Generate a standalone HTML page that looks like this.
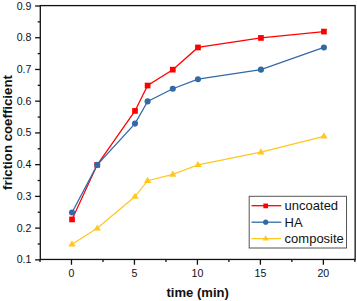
<!DOCTYPE html>
<html><head><meta charset="utf-8"><title>chart</title>
<style>
html,body{margin:0;padding:0;background:#fff;}
body{width:357px;height:301px;overflow:hidden;}
svg{display:block;}
.t{font-family:"Liberation Sans",sans-serif;fill:#111;}
</style></head><body>
<svg width="357" height="301" viewBox="0 0 357 301">
<rect width="357" height="301" fill="#fff"/>
<polyline points="72.03,219.43 97.22,164.86 135.00,110.91 147.60,85.53 172.79,69.66 197.97,47.45 260.94,37.93 323.91,31.59" fill="none" stroke="#ff0000" stroke-width="1.25"/>
<rect x="69.19" y="216.58" width="5.7" height="5.7" fill="#ff0000"/>
<rect x="94.37" y="162.01" width="5.7" height="5.7" fill="#ff0000"/>
<rect x="132.16" y="108.06" width="5.7" height="5.7" fill="#ff0000"/>
<rect x="144.75" y="82.68" width="5.7" height="5.7" fill="#ff0000"/>
<rect x="169.94" y="66.81" width="5.7" height="5.7" fill="#ff0000"/>
<rect x="195.12" y="44.60" width="5.7" height="5.7" fill="#ff0000"/>
<rect x="258.09" y="35.08" width="5.7" height="5.7" fill="#ff0000"/>
<rect x="321.06" y="28.74" width="5.7" height="5.7" fill="#ff0000"/>
<polyline points="72.03,212.45 97.22,164.86 135.00,123.61 147.60,101.39 172.79,88.70 197.97,79.18 260.94,69.66 323.91,47.45" fill="none" stroke="#3269a6" stroke-width="1.25"/>
<circle cx="72.03" cy="212.45" r="3.05" fill="#3269a6"/>
<circle cx="97.22" cy="164.86" r="3.05" fill="#3269a6"/>
<circle cx="135.00" cy="123.61" r="3.05" fill="#3269a6"/>
<circle cx="147.60" cy="101.39" r="3.05" fill="#3269a6"/>
<circle cx="172.79" cy="88.70" r="3.05" fill="#3269a6"/>
<circle cx="197.97" cy="79.18" r="3.05" fill="#3269a6"/>
<circle cx="260.94" cy="69.66" r="3.05" fill="#3269a6"/>
<circle cx="323.91" cy="47.45" r="3.05" fill="#3269a6"/>
<polyline points="72.03,244.18 97.22,228.32 135.00,196.59 147.60,180.72 172.79,174.38 197.97,164.86 260.94,152.16 323.91,136.30" fill="none" stroke="#ffc820" stroke-width="1.25"/>
<polygon points="72.03,240.24 68.38,246.45 75.69,246.45" fill="#ffc820"/>
<polygon points="97.22,224.38 93.57,230.58 100.87,230.58" fill="#ffc820"/>
<polygon points="135.00,192.65 131.35,198.85 138.66,198.85" fill="#ffc820"/>
<polygon points="147.60,176.78 143.95,182.98 151.25,182.98" fill="#ffc820"/>
<polygon points="172.79,170.43 169.14,176.64 176.44,176.64" fill="#ffc820"/>
<polygon points="197.97,160.91 194.32,167.12 201.62,167.12" fill="#ffc820"/>
<polygon points="260.94,148.22 257.29,154.43 264.59,154.43" fill="#ffc820"/>
<polygon points="323.91,132.36 320.26,138.56 327.56,138.56" fill="#ffc820"/>
<rect x="40.3" y="5.6" width="314.85" height="253.85" fill="none" stroke="#111" stroke-width="1.3"/>
<line x1="35.099999999999994" x2="40.3" y1="259.85" y2="259.85" stroke="#111" stroke-width="1.3"/>
<text x="31.4" y="263.40" text-anchor="end" font-size="10.6" class="t">0.1</text>
<line x1="37.699999999999996" x2="40.3" y1="243.98" y2="243.98" stroke="#111" stroke-width="1.3"/>
<line x1="35.099999999999994" x2="40.3" y1="228.12" y2="228.12" stroke="#111" stroke-width="1.3"/>
<text x="31.4" y="231.67" text-anchor="end" font-size="10.6" class="t">0.2</text>
<line x1="37.699999999999996" x2="40.3" y1="212.25" y2="212.25" stroke="#111" stroke-width="1.3"/>
<line x1="35.099999999999994" x2="40.3" y1="196.39" y2="196.39" stroke="#111" stroke-width="1.3"/>
<text x="31.4" y="199.94" text-anchor="end" font-size="10.6" class="t">0.3</text>
<line x1="37.699999999999996" x2="40.3" y1="180.52" y2="180.52" stroke="#111" stroke-width="1.3"/>
<line x1="35.099999999999994" x2="40.3" y1="164.66" y2="164.66" stroke="#111" stroke-width="1.3"/>
<text x="31.4" y="168.21" text-anchor="end" font-size="10.6" class="t">0.4</text>
<line x1="37.699999999999996" x2="40.3" y1="148.79" y2="148.79" stroke="#111" stroke-width="1.3"/>
<line x1="35.099999999999994" x2="40.3" y1="132.92" y2="132.92" stroke="#111" stroke-width="1.3"/>
<text x="31.4" y="136.47" text-anchor="end" font-size="10.6" class="t">0.5</text>
<line x1="37.699999999999996" x2="40.3" y1="117.06" y2="117.06" stroke="#111" stroke-width="1.3"/>
<line x1="35.099999999999994" x2="40.3" y1="101.19" y2="101.19" stroke="#111" stroke-width="1.3"/>
<text x="31.4" y="104.74" text-anchor="end" font-size="10.6" class="t">0.6</text>
<line x1="37.699999999999996" x2="40.3" y1="85.33" y2="85.33" stroke="#111" stroke-width="1.3"/>
<line x1="35.099999999999994" x2="40.3" y1="69.46" y2="69.46" stroke="#111" stroke-width="1.3"/>
<text x="31.4" y="73.01" text-anchor="end" font-size="10.6" class="t">0.7</text>
<line x1="37.699999999999996" x2="40.3" y1="53.60" y2="53.60" stroke="#111" stroke-width="1.3"/>
<line x1="35.099999999999994" x2="40.3" y1="37.73" y2="37.73" stroke="#111" stroke-width="1.3"/>
<text x="31.4" y="41.28" text-anchor="end" font-size="10.6" class="t">0.8</text>
<line x1="37.699999999999996" x2="40.3" y1="21.87" y2="21.87" stroke="#111" stroke-width="1.3"/>
<line x1="35.099999999999994" x2="40.3" y1="6.00" y2="6.00" stroke="#111" stroke-width="1.3"/>
<text x="31.4" y="9.55" text-anchor="end" font-size="10.6" class="t">0.9</text>
<line x1="40.00" x2="40.00" y1="259.45" y2="261.95" stroke="#111" stroke-width="1.3"/>
<line x1="71.48" x2="71.48" y1="259.45" y2="264.75" stroke="#111" stroke-width="1.3"/>
<text x="71.48" y="276.8" text-anchor="middle" font-size="10.6" class="t">0</text>
<line x1="102.97" x2="102.97" y1="259.45" y2="261.95" stroke="#111" stroke-width="1.3"/>
<line x1="134.45" x2="134.45" y1="259.45" y2="264.75" stroke="#111" stroke-width="1.3"/>
<text x="134.45" y="276.8" text-anchor="middle" font-size="10.6" class="t">5</text>
<line x1="165.94" x2="165.94" y1="259.45" y2="261.95" stroke="#111" stroke-width="1.3"/>
<line x1="197.42" x2="197.42" y1="259.45" y2="264.75" stroke="#111" stroke-width="1.3"/>
<text x="197.42" y="276.8" text-anchor="middle" font-size="10.6" class="t">10</text>
<line x1="228.91" x2="228.91" y1="259.45" y2="261.95" stroke="#111" stroke-width="1.3"/>
<line x1="260.39" x2="260.39" y1="259.45" y2="264.75" stroke="#111" stroke-width="1.3"/>
<text x="260.39" y="276.8" text-anchor="middle" font-size="10.6" class="t">15</text>
<line x1="291.88" x2="291.88" y1="259.45" y2="261.95" stroke="#111" stroke-width="1.3"/>
<line x1="323.36" x2="323.36" y1="259.45" y2="264.75" stroke="#111" stroke-width="1.3"/>
<text x="323.36" y="276.8" text-anchor="middle" font-size="10.6" class="t">20</text>
<line x1="354.85" x2="354.85" y1="259.45" y2="261.95" stroke="#111" stroke-width="1.3"/>
<text x="197.7" y="297.4" text-anchor="middle" font-size="13.05" font-weight="bold" class="t">time (min)</text>
<text transform="translate(11.7,132.5) rotate(-90)" text-anchor="middle" font-size="13.25" font-weight="bold" class="t">friction coefficient</text>
<rect x="249.2" y="196.3" width="97.3" height="51.7" fill="#fff" stroke="#555" stroke-width="1"/>
<line x1="251.5" x2="281.3" y1="205.7" y2="205.7" stroke="#ff0000" stroke-width="1.3"/>
<text x="284.6" y="210.10" font-size="13" class="t">uncoated</text>
<line x1="251.5" x2="281.3" y1="222.2" y2="222.2" stroke="#3269a6" stroke-width="1.3"/>
<text x="284.6" y="226.60" font-size="13" class="t">HA</text>
<line x1="251.5" x2="281.3" y1="238.6" y2="238.6" stroke="#ffc820" stroke-width="1.3"/>
<text x="284.6" y="243.00" font-size="13" class="t">composite</text>
<rect x="263.35" y="203.55" width="4.7" height="4.7" fill="#ff0000"/>
<circle cx="265.70" cy="222.20" r="2.6" fill="#3269a6"/>
<polygon points="265.70,235.14 262.50,240.58 268.90,240.58" fill="#ffc820"/>
</svg>
</body></html>
